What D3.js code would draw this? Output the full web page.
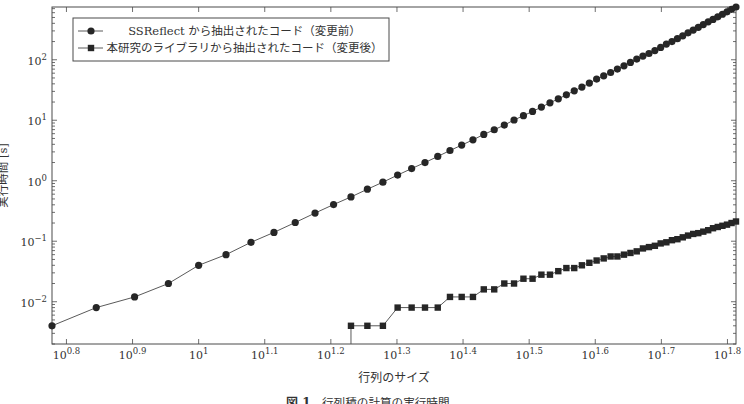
<!DOCTYPE html>
<html>
<head>
<meta charset="utf-8">
<script src="https://cdn.jsdelivr.net/npm/d3@7"></script>
<style>
  html, body { margin: 0; padding: 0; background: #fff; }
  svg { display: block; }
</style>
</head>
<body>
<svg id="chart" width="744" height="404"></svg>
<script>
// ---------------- data ----------------
const sizesBefore = [6,7,8,9,10,11,12,13,14,15,16,17,18,19,20,21,22,23,24,25,26,27,28,29,30,31,32,33,34,35,36,37,38,39,40,41,42,43,44,45,46,47,48,49,50,51,52,53,54,55,56,57,58,59,60,61,62,63,64,65];
const timesBefore = [0.004,0.008,0.012,0.020,0.040,0.060,0.096,0.140,0.204,0.292,0.404,0.540,0.724,0.948,1.24,1.59,2.00,2.52,3.16,3.88,4.75,5.82,6.97,8.32,10.1,11.9,14.0,16.5,19.4,22.6,26.3,30.7,35.3,41.1,47.9,54.3,61.6,70.2,79.5,90.2,102.6,115,127,142,160,182,200,223,249,279,310,344,381,423,465,513,565,621,682,745];
const sizesAfter = [17,18,19,20,21,22,23,24,25,26,27,28,29,30,31,32,33,34,35,36,37,38,39,40,41,42,43,44,45,46,47,48,49,50,51,52,53,54,55,56,57,58,59,60,61,62,63,64,65];
const timesAfter = [0.004,0.004,0.004,0.008,0.008,0.008,0.008,0.012,0.012,0.012,0.016,0.016,0.020,0.020,0.024,0.024,0.028,0.028,0.032,0.036,0.036,0.040,0.044,0.048,0.052,0.056,0.056,0.060,0.064,0.068,0.076,0.080,0.084,0.092,0.096,0.104,0.108,0.116,0.124,0.132,0.136,0.144,0.152,0.164,0.172,0.180,0.188,0.200,0.212];
const xTickExps = ["0.8","0.9","1","1.1","1.2","1.3","1.4","1.5","1.6","1.7","1.8"];
const yTickExps = ["2","1","0","−1","−2"];
const yTickValues = [100, 10, 1, 0.1, 0.01];
const yMin = 0.002;
const legendLabels = ["SSReflect から抽出されたコード（変更前）", "本研究のライブラリから抽出されたコード（変更後）"];
const xLabel = "行列のサイズ";
const yLabel = "実行時間 [s]";
const captionNum = "図 1";
const captionText = "行列積の計算の実行時間";

// ---------------- layout ----------------
const L = 52, R = 736, T = 7, B = 344;
const serif = "'DejaVu Serif', 'Noto Sans CJK JP', serif";
const lineColor = "#5a5a5a";
const markColor = "#262626";
const frameColor = "#4a4a4a";
const textColor = "#333";

const svg = d3.select("#chart");

const x = d3.scaleLog()
  .domain([d3.min(sizesBefore), d3.max(sizesBefore)])
  .range([L, R]);
const y = d3.scaleLog()
  .domain([yMin, d3.max(timesBefore)])
  .range([B, T]);

const xTickValues = xTickExps.map(e => Math.pow(10, parseFloat(e)));

// frame
svg.append("rect")
  .attr("x", L).attr("y", T).attr("width", R - L).attr("height", B - T)
  .attr("fill", "none").attr("stroke", frameColor).attr("stroke-width", 1);

// ticks
const minorY = [];
for (let d = -3; d <= 2; d++) {
  for (let k = 2; k <= 9; k++) {
    const v = k * Math.pow(10, d);
    if (v >= yMin && v <= y.domain()[1]) minorY.push(v);
  }
}
const tickG = svg.append("g").attr("stroke", frameColor).attr("stroke-width", 0.8);
minorY.forEach(v => {
  tickG.append("line").attr("x1", L).attr("x2", L + 3).attr("y1", y(v)).attr("y2", y(v));
  tickG.append("line").attr("x1", R).attr("x2", R - 3).attr("y1", y(v)).attr("y2", y(v));
});
yTickValues.forEach(v => {
  tickG.append("line").attr("x1", L).attr("x2", L + 5).attr("y1", y(v)).attr("y2", y(v));
  tickG.append("line").attr("x1", R).attr("x2", R - 5).attr("y1", y(v)).attr("y2", y(v));
});
xTickValues.forEach(v => {
  tickG.append("line").attr("x1", x(v)).attr("x2", x(v)).attr("y1", B).attr("y2", B - 5);
  tickG.append("line").attr("x1", x(v)).attr("x2", x(v)).attr("y1", T).attr("y2", T + 5);
});

// x tick labels
xTickValues.forEach((v, i) => {
  const t = svg.append("text")
    .attr("x", x(v)).attr("y", B + 15)
    .attr("text-anchor", "middle")
    .attr("font-family", serif).attr("font-size", 11).attr("fill", textColor);
  t.append("tspan").text("10");
  t.append("tspan").attr("dy", -5).attr("font-size", 8.5).text(xTickExps[i]);
});
// y tick labels
yTickValues.forEach((v, i) => {
  const t = svg.append("text")
    .attr("x", L - 5).attr("y", y(v) + 5)
    .attr("text-anchor", "end")
    .attr("font-family", serif).attr("font-size", 11).attr("fill", textColor);
  t.append("tspan").text("10");
  t.append("tspan").attr("dy", -5).attr("font-size", 8.5).text(yTickExps[i]);
});

// axis labels
svg.append("text")
  .attr("x", (L + R) / 2).attr("y", 382)
  .attr("text-anchor", "middle")
  .attr("font-family", serif).attr("font-size", 12).attr("fill", textColor)
  .text(xLabel);
svg.append("text")
  .attr("transform", `translate(7,${(T + B) / 2}) rotate(-90)`)
  .attr("text-anchor", "middle")
  .attr("font-family", serif).attr("font-size", 11.5).attr("fill", textColor)
  .text(yLabel);

// caption
svg.append("text")
  .attr("x", 286).attr("y", 407)
  .attr("font-family", serif).attr("font-size", 12).attr("font-weight", "bold").attr("fill", textColor)
  .text(captionNum);
svg.append("text")
  .attr("x", 322).attr("y", 407)
  .attr("font-family", serif).attr("font-size", 11.6).attr("fill", textColor)
  .text(captionText);

// series
const line = d3.line().x(d => x(d[0])).y(d => y(d[1]));
const before = sizesBefore.map((n, i) => [n, timesBefore[i]]);
const after = sizesAfter.map((n, i) => [n, timesAfter[i]]);
// the second series drops to the lower edge of the plot before its first mark
const afterLine = [[sizesAfter[0], yMin]].concat(after);

svg.append("path").attr("d", line(before))
  .attr("fill", "none").attr("stroke", lineColor).attr("stroke-width", 1);
svg.append("path").attr("d", line(afterLine))
  .attr("fill", "none").attr("stroke", lineColor).attr("stroke-width", 1);

svg.append("g").selectAll("circle").data(before).join("circle")
  .attr("cx", d => x(d[0])).attr("cy", d => y(d[1])).attr("r", 3.6)
  .attr("fill", markColor);
const sq = 6.4;
svg.append("g").selectAll("rect").data(after).join("rect")
  .attr("x", d => x(d[0]) - sq / 2).attr("y", d => y(d[1]) - sq / 2)
  .attr("width", sq).attr("height", sq)
  .attr("fill", markColor);

// legend
const lg = svg.append("g");
lg.append("rect").attr("x", 73).attr("y", 18).attr("width", 316).attr("height", 43)
  .attr("fill", "#fff").attr("stroke", frameColor).attr("stroke-width", 1);
const rowsY = [31, 48];
rowsY.forEach((ry, i) => {
  lg.append("line").attr("x1", 78).attr("x2", 103).attr("y1", ry).attr("y2", ry)
    .attr("stroke", lineColor).attr("stroke-width", 1);
  if (i === 0) {
    lg.append("circle").attr("cx", 91).attr("cy", ry).attr("r", 3.6).attr("fill", markColor);
  } else {
    lg.append("rect").attr("x", 91 - sq / 2).attr("y", ry - sq / 2).attr("width", sq).attr("height", sq).attr("fill", markColor);
  }
  lg.append("text").attr("x", 244.5).attr("y", ry + 4.2)
    .attr("text-anchor", "middle")
    .attr("font-family", serif).attr("font-size", 11.5).attr("fill", textColor)
    .text(legendLabels[i]);
});
</script>
</body>
</html>
